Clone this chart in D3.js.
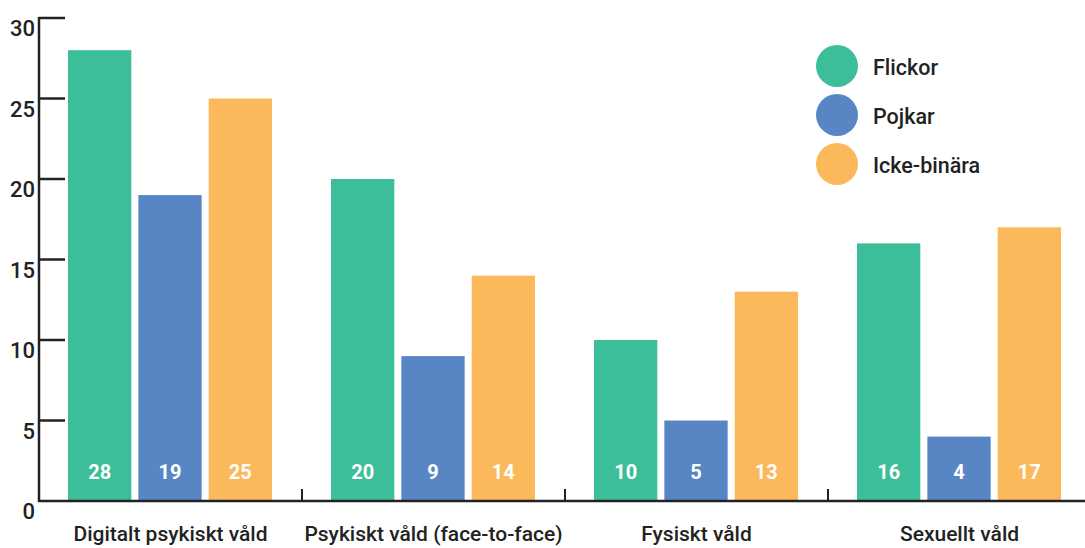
<!DOCTYPE html>
<html><head><meta charset="utf-8">
<script src="https://cdn.jsdelivr.net/npm/d3@7"></script>
<style>body{margin:0;background:#fff}svg{display:block}text{font-family:Roboto,"Noto Sans",sans-serif}</style>
</head><body>
<svg id="c" width="1085" height="548"></svg>
<script>
const categories = ["Digitalt psykiskt våld","Psykiskt våld (face-to-face)","Fysiskt våld","Sexuellt våld"];
const seriesNames = ["Flickor","Pojkar","Icke-binära"];
const flickor = [28,20,10,16];
const pojkar = [19,9,5,4];
const ickeBinara = [25,14,13,17];
const yTicks = [0,5,10,15,20,25,30];
const colors = ["#3CBE9A","#5886C5","#FBB95B"];

const series = [flickor,pojkar,ickeBinara];
const svg = d3.select("#c");
const x0 = 39, x1 = 1091, yTop = 18, yBot = 501;
const x = d3.scaleBand().domain(categories).range([x0,x1]);
const xs = d3.scaleBand().domain(seriesNames).range([29,233]).paddingInner(0.1);
const y = d3.scaleLinear().domain([0,30]).range([yBot,yTop]);
const ink = "#222";

// bars
categories.forEach((c,i)=>{
  const g = svg.append("g").attr("transform",`translate(${x(c)},0)`);
  seriesNames.forEach((s,j)=>{
    const v = series[j][i];
    g.append("rect").attr("x",xs(s)).attr("width",xs.bandwidth())
      .attr("y",y(v)).attr("height",y(0)-y(v)).attr("fill",colors[j]);
    g.append("text").attr("x",xs(s)+xs.bandwidth()/2).attr("y",479)
      .attr("text-anchor","middle").attr("fill","#fff").attr("font-weight",700)
      .attr("font-family","'Open Sans',sans-serif")
      .attr("font-size",20).text(v);
  });
  svg.append("text").attr("x",x(c)+x.bandwidth()/2).attr("y",541)
    .attr("text-anchor","middle").attr("fill",ink).attr("font-size",21)
    .attr("font-weight",500).text(c);
});

// y axis
svg.append("line").attr("x1",x0).attr("x2",x0).attr("y1",yTop-1).attr("y2",yBot+1)
  .attr("stroke",ink).attr("stroke-width",2.5);
yTicks.forEach(t=>{
  if(t>0) svg.append("line").attr("x1",x0).attr("x2",65).attr("y1",y(t)).attr("y2",y(t))
    .attr("stroke",ink).attr("stroke-width",2.5);
  svg.append("text").attr("x",35).attr("y",y(t)+18).attr("text-anchor","end")
    .attr("fill",ink).attr("font-size",22).attr("font-weight",500).text(t);
});
// x axis
svg.append("line").attr("x1",x0-1).attr("x2",1085).attr("y1",yBot).attr("y2",yBot)
  .attr("stroke",ink).attr("stroke-width",2.5);
categories.slice(1).forEach(c=>{
  svg.append("line").attr("x1",x(c)).attr("x2",x(c)).attr("y1",yBot).attr("y2",yBot-12)
    .attr("stroke",ink).attr("stroke-width",2);
});

// legend
seriesNames.forEach((s,j)=>{
  const cy = 66 + j*49;
  svg.append("circle").attr("cx",837).attr("cy",cy).attr("r",21).attr("fill",colors[j]);
  svg.append("text").attr("x",873).attr("y",cy+9).attr("fill",ink).attr("font-size",21.5)
    .attr("font-weight",500).text(s);
});
</script>
</body></html>
